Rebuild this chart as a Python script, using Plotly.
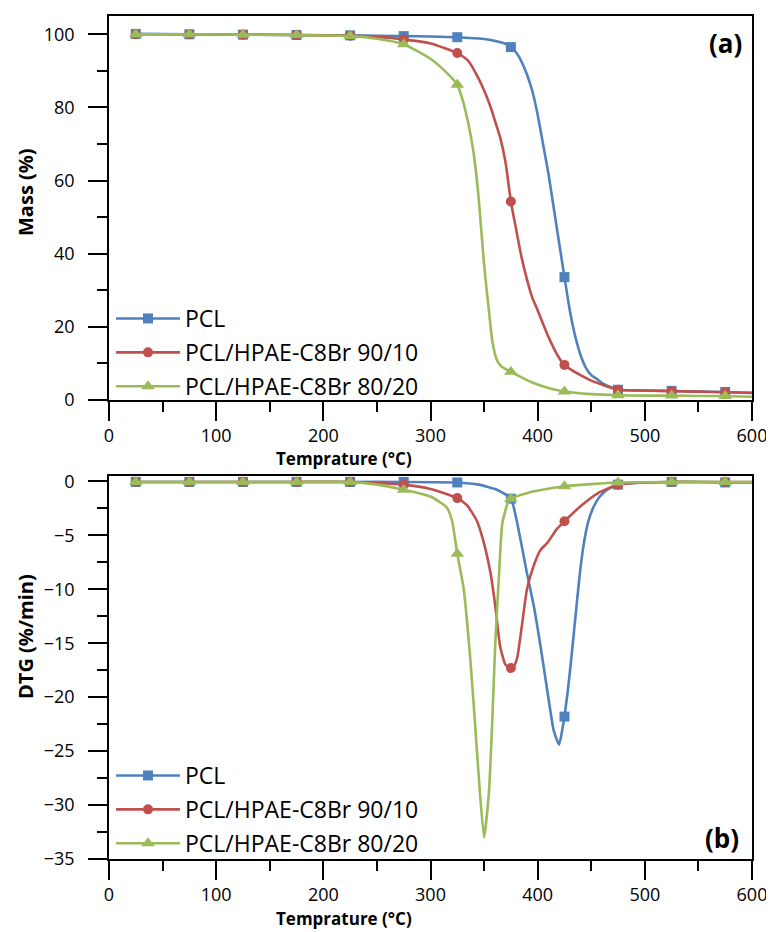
import plotly.graph_objects as go

# ---------------- data ----------------
series_names = ["PCL", "PCL/HPAE-C8Br 90/10", "PCL/HPAE-C8Br 80/20"]
colors = ["#4F81BD", "#C0504D", "#9BBB59"]
symbols = ["square", "circle", "triangle-up"]
marker_sizes = [10, 10, 12]
marker_T = [25, 75, 125, 175, 225, 275, 325, 375, 425, 475, 525, 575]

x_ticks = [0, 100, 200, 300, 400, 500, 600]

# (a) Mass (%) vs temperature
tga_T_pcl = [25, 75, 125, 175, 225, 275, 300, 325, 350, 360, 370, 375, 380, 385, 390, 395,
             400, 405, 410, 415, 420, 425, 430, 435, 440, 445, 450, 455, 460, 470, 475,
             500, 525, 550, 575, 600]
tga_M_pcl = [100.1, 100.0, 99.9, 99.8, 99.7, 99.5, 99.4, 99.2, 98.7, 98.2, 97.4, 96.5, 95.0,
             92.5, 89.0, 84.5, 78.0, 70.0, 62.0, 52.5, 43.0, 33.6, 24.5, 17.5, 12.3, 8.8, 6.8,
             5.8, 4.6, 3.3, 2.8, 2.6, 2.5, 2.3, 2.2, 1.9]

tga_T_r = [25, 75, 125, 175, 225, 250, 275, 300, 325, 335, 345, 355, 360, 365, 370, 375, 380,
           385, 390, 395, 400, 410, 420, 425, 430, 440, 450, 460, 475, 500, 525, 550, 575, 600]
tga_M_r = [100.0, 100.0, 99.9, 99.8, 99.6, 99.3, 98.6, 97.5, 94.9, 92.8, 87.8, 81.0, 76.5,
           71.8, 65.0, 54.3, 46.5, 39.0, 33.0, 28.0, 24.5, 17.3, 11.5, 9.6, 8.5, 6.8, 5.3,
           4.2, 2.8, 2.6, 2.4, 2.3, 2.1, 2.0]

tga_T_g = [25, 75, 125, 175, 225, 250, 275, 300, 315, 325, 330, 335, 340, 345, 350, 355, 358,
           362, 366, 370, 375, 385, 395, 410, 425, 450, 475, 500, 525, 550, 575, 600]
tga_M_g = [100.0, 100.0, 99.9, 99.8, 99.5, 98.8, 97.3, 93.3, 89.5, 86.2, 82.0, 76.0, 68.0,
           55.0, 37.0, 23.0, 15.5, 10.9, 9.2, 8.5, 7.7, 6.2, 4.8, 3.3, 2.3, 1.6, 1.3, 1.2,
           1.2, 1.1, 1.1, 0.9]

# (b) DTG (%/min) vs temperature
dtg_T_pcl = [25, 75, 125, 175, 225, 275, 325, 345, 362, 375, 384, 390, 396.5, 402.7, 409, 415,
             420, 423, 425, 428, 431, 434, 437, 440, 443, 447, 452, 458, 466, 475, 500, 525,
             550, 575, 600]
dtg_D_pcl = [-0.05, -0.05, -0.05, -0.05, -0.05, -0.05, -0.1, -0.3, -0.77, -1.6, -5.4, -8.5,
             -11.6, -15.3, -19.4, -23.1, -24.4, -23.0, -21.8, -19.5, -16.8, -13.8, -10.8,
             -8.0, -5.8, -3.8, -2.4, -1.4, -0.7, -0.3, -0.1, -0.05, -0.05, -0.1, -0.1]

dtg_T_r = [25, 75, 125, 175, 225, 275, 300, 325, 334, 343, 349, 356, 360.5, 365, 370, 375, 378,
           381, 385.5, 390, 396, 402.7, 409, 418, 425, 440, 456, 475, 500, 525, 550, 575, 600]
dtg_D_r = [-0.05, -0.05, -0.05, -0.05, -0.05, -0.3, -0.7, -1.55, -2.2, -3.6, -5.4, -8.5, -11.6,
           -15.3, -17.0, -17.3, -17.1, -16.3, -13.2, -10.0, -7.9, -6.35, -5.7, -4.4, -3.7,
           -2.3, -1.1, -0.3, -0.1, -0.05, -0.05, -0.05, -0.05]

dtg_T_g = [25, 75, 125, 175, 225, 250, 275, 300, 315, 320, 325, 331, 337, 341.6, 346, 350,
           354.6, 357.5, 360.6, 364, 367, 372, 375, 393, 425, 475, 525, 575, 600]
dtg_D_g = [-0.05, -0.05, -0.05, -0.05, -0.05, -0.3, -0.77, -1.4, -2.4, -3.6, -6.7, -10.0,
           -16.3, -22.5, -28.7, -33.0, -28.7, -22.5, -14.7, -8.5, -3.9, -2.0, -1.6, -1.0,
           -0.45, -0.1, -0.05, -0.05, -0.05]

tga_T = [tga_T_pcl, tga_T_r, tga_T_g]
tga_M = [tga_M_pcl, tga_M_r, tga_M_g]
dtg_T = [dtg_T_pcl, dtg_T_r, dtg_T_g]
dtg_D = [dtg_D_pcl, dtg_D_r, dtg_D_g]

# ---------------- figure ----------------
W, H = 774, 932
OFF = 8  # page body margin of the browser
FONT = "Open Sans"
fig = go.Figure()


def add_series(xs, ys, i, xa, ya, legend_name):
    fig.add_trace(go.Scatter(
        x=xs, y=ys, mode="lines", xaxis=xa, yaxis=ya, showlegend=False,
        line=dict(color=colors[i], width=2.6, shape="spline", smoothing=0.5),
        hoverinfo="skip"))
    mx = [t for t in xs if t in marker_T]
    my = [v for t, v in zip(xs, ys) if t in marker_T]
    fig.add_trace(go.Scatter(
        x=mx, y=my, mode="markers", xaxis=xa, yaxis=ya, showlegend=False,
        marker=dict(symbol=symbols[i], size=marker_sizes[i], color=colors[i])))
    # legend entry
    fig.add_trace(go.Scatter(
        x=[None], y=[None], mode="lines+markers", xaxis=xa, yaxis=ya,
        name=series_names[i], legend=legend_name, legendgroup=legend_name + str(i),
        line=dict(color=colors[i], width=2.6),
        marker=dict(symbol=symbols[i], size=marker_sizes[i], color=colors[i])))


for i in range(3):
    add_series(tga_T[i], tga_M[i], i, "x", "y", "legend")
for i in range(3):
    add_series(dtg_T[i], dtg_D[i], i, "x2", "y2", "legend2")


def px2x(p):
    return (p - OFF) / W


def px2y(p):
    return 1 - (p - OFF) / H


axis_common = dict(
    showline=True, linecolor="black", linewidth=1.5, mirror=True,
    showgrid=False, zeroline=False, ticks="outside", ticklen=19, tickwidth=1.5,
    tickcolor="black", tickfont=dict(family=FONT, size=18, color="black"),
    automargin=False,
)

xdom = [px2x(109), px2x(752)]
fig.update_layout(
    width=W, height=H,
    margin=dict(l=0, r=0, t=0, b=0, autoexpand=False),
    paper_bgcolor="white", plot_bgcolor="white",
    font=dict(family=FONT, color="black"),
    xaxis=dict(domain=xdom, anchor="y", range=[0, 600], tickvals=x_ticks,
               minor=dict(dtick=50, tick0=0, ticks="outside", ticklen=10, tickwidth=1.5,
                          tickcolor="black"),
               **axis_common),
    yaxis=dict(domain=[px2y(400), px2y(16)], anchor="x", range=[0, 105],
               dtick=20, tick0=0, ticklabelstandoff=10,
               minor=dict(dtick=10, tick0=0, ticks="outside", ticklen=10, tickwidth=1.5,
                          tickcolor="black"),
               **axis_common),
    xaxis2=dict(domain=xdom, anchor="y2", range=[0, 600], tickvals=x_ticks,
                minor=dict(dtick=50, tick0=0, ticks="outside", ticklen=10, tickwidth=1.5,
                           tickcolor="black"),
                **axis_common),
    yaxis2=dict(domain=[px2y(859), px2y(476)], anchor="x2", range=[-35, 0.5],
                dtick=5, tick0=0, ticklabelstandoff=10,
                minor=dict(dtick=2.5, tick0=0, ticks="outside", ticklen=10, tickwidth=1.5,
                           tickcolor="black"),
                **axis_common),
    legend=dict(x=px2x(111), y=px2y(297), xanchor="left", yanchor="top",
                bgcolor="rgba(0,0,0,0)", font=dict(family=FONT, size=23, color="black"),
                traceorder="grouped", tracegroupgap=1, itemwidth=64),
    legend2=dict(x=px2x(111), y=px2y(754), xanchor="left", yanchor="top",
                 bgcolor="rgba(0,0,0,0)", font=dict(family=FONT, size=23, color="black"),
                 traceorder="grouped", tracegroupgap=1, itemwidth=64),
)

title_font = dict(family=FONT, size=17, color="black", weight="bold")
ytitle_font = dict(family=FONT, size=20, color="black", weight="bold")
annotations = [
    dict(text="Temprature (°C)", x=px2x(344), y=px2y(458), font=title_font),
    dict(text="Temprature (°C)", x=px2x(344), y=px2y(918), font=title_font),
    dict(text="Mass (%)", x=px2x(25), y=px2y(192), textangle=-90, font=ytitle_font),
    dict(text="DTG (%/min)", x=px2x(25), y=px2y(637), textangle=-90, font=ytitle_font),
    dict(text="(a)", x=px2x(725), y=px2y(43),
         font=dict(family=FONT, size=26, color="black", weight="bold")),
    dict(text="(b)", x=px2x(722), y=px2y(838),
         font=dict(family=FONT, size=26, color="black", weight="bold")),
]
for a in annotations:
    a.update(xref="paper", yref="paper", showarrow=False, xanchor="center", yanchor="middle")
fig.update_layout(annotations=annotations)

fig.write_html("out.html")
